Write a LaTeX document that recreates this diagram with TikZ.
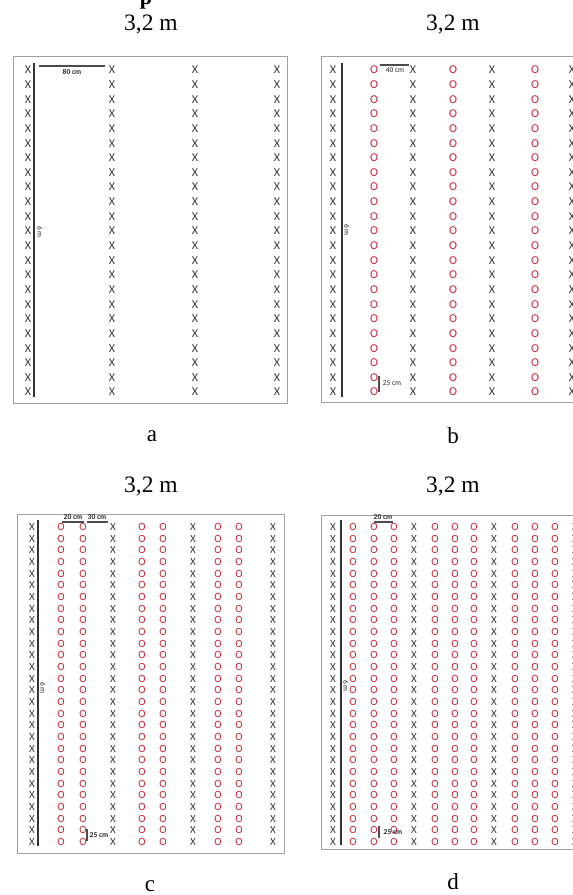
\documentclass[tikz,border=0pt]{standalone}
\usepackage{fontspec}
\setmainfont{Liberation Serif}
\newfontfamily\markfont{Carlito}
\definecolor{ored}{RGB}{200,35,50}
\definecolor{xgray}{RGB}{60,60,60}
\definecolor{framegray}{RGB}{160,160,160}
\begin{document}
\begin{tikzpicture}[x=1pt,y=-1pt,
  title/.style={font=\fontsize{23.5}{23.5}\selectfont, inner sep=0},
  panellabel/.style={font=\fontsize{23}{23}\selectfont, inner sep=0},
  xmark/.style={font=\markfont\fontsize{12}{12}\selectfont, text=xgray, inner sep=0},
  omark/.style={font=\markfont\fontsize{12}{12}\selectfont, text=ored, inner sep=0},
  xmarks/.style={font=\markfont\fontsize{11}{11}\selectfont, text=xgray, inner sep=0},
  omarks/.style={font=\markfont\fontsize{11}{11}\selectfont, text=ored, inner sep=0},
  frame/.style={draw=framegray, line width=0.9pt},
  rowline/.style={draw=black!80, line width=1.5pt},
  dimline/.style={draw=black!70, line width=1.2pt},
  smalllab/.style={font=\markfont\fontsize{7.5}{7.5}\selectfont, inner sep=0, text=black!85},
  smallbold/.style={font=\markfont\bfseries\fontsize{7.5}{7.5}\selectfont, inner sep=0, text=black!85},
  fragment/.style={font=\bfseries\fontsize{22}{22}\selectfont, inner sep=0, anchor=base}]
\useasboundingbox (0,0) rectangle (573,895);
\node[fragment] (frag) at (146,4) {p};
% ---------- panel a ----------
\node[title] (ta) at (151,25) {3,2 m};
\draw[frame] (13,56) rectangle (287,403);
\foreach \c [count=\ci] in {28,112,195,277}
  \foreach \r in {0,...,22}
    \node[xmark] (a-\ci-\r) at (\c,{70+14.64*\r}) {X};
\coordinate (av1) at (34,63); \coordinate (av2) at (34,397);
\draw[rowline] (av1) -- (av2);
\node[smalllab, rotate=-90] (a6m) at (40,232) {6 m};
\coordinate (ah1) at (39,66); \coordinate (ah2) at (105,66);
\draw[dimline] (ah1) -- (ah2);
\node[smallbold] (a80) at (72,71.5) {80 cm};
\node[panellabel] (la) at (152,436) {a};
% ---------- panel b ----------
\node[title] (tb) at (453,25) {3,2 m};
\draw[frame] (321,56) rectangle (585,402);
\foreach \c [count=\ci] in {333,413,492,572}
  \foreach \r in {0,...,22}
    \node[xmark] (b-x\ci-\r) at (\c,{70+14.64*\r}) {X};
\foreach \c [count=\ci] in {374,453,535}
  \foreach \r in {0,...,22}
    \node[omark] (b-o\ci-\r) at (\c,{70+14.64*\r}) {O};
\coordinate (bv1) at (342,63); \coordinate (bv2) at (342,397);
\draw[rowline] (bv1) -- (bv2);
\node[smalllab, rotate=-90] (b6m) at (347,230) {6 m};
\coordinate (bh1) at (380,65); \coordinate (bh2) at (409,65);
\draw[dimline] (bh1) -- (bh2);
\node[smalllab] (b40) at (395,70.5) {40 cm};
\coordinate (bw1) at (379,376); \coordinate (bw2) at (379,392);
\draw[dimline] (bw1) -- (bw2);
\node[smalllab] (b25) at (392,383) {25 cm};
\node[panellabel] (lb) at (453,436) {b};
% ---------- panel c ----------
\node[title] (tc) at (151,487) {3,2 m};
\draw[frame] (17,514) rectangle (284,853);
\foreach \c [count=\ci] in {32,113,193,273}
  \foreach \r in {0,...,27}
    \node[xmarks] (c-x\ci-\r) at (\c,{527+11.67*\r}) {X};
\foreach \c [count=\ci] in {61,83,142,163,218,239}
  \foreach \r in {0,...,27}
    \node[omarks] (c-o\ci-\r) at (\c,{527+11.67*\r}) {O};
\coordinate (cv1) at (38,520); \coordinate (cv2) at (38,846);
\draw[rowline] (cv1) -- (cv2);
\node[smalllab, rotate=-90] (c6m) at (43,688) {6 m};
\coordinate (ch1) at (62,522); \coordinate (ch2) at (84,522);
\draw[dimline] (ch1) -- (ch2);
\node[smallbold] (c20) at (73,517) {20 cm};
\coordinate (ch3) at (87,522); \coordinate (ch4) at (108,522);
\draw[dimline] (ch3) -- (ch4);
\node[smallbold] (c30) at (97,517) {30 cm};
\coordinate (cw1) at (87,829); \coordinate (cw2) at (87,841);
\draw[dimline] (cw1) -- (cw2);
\node[smallbold] (c25) at (99,835) {25 cm};
\node[panellabel] (lc) at (150,886) {c};
% ---------- panel d ----------
\node[title] (td) at (453,487) {3,2 m};
\draw[frame] (321,515) rectangle (585,849);
\foreach \c [count=\ci] in {333,414,494,575}
  \foreach \r in {0,...,27}
    \node[xmarks] (d-x\ci-\r) at (\c,{527+11.67*\r}) {X};
\foreach \c [count=\ci] in {353,374,394,435,455,474,515,535,555}
  \foreach \r in {0,...,27}
    \node[omarks] (d-o\ci-\r) at (\c,{527+11.67*\r}) {O};
\coordinate (dv1) at (341,520); \coordinate (dv2) at (341,845);
\draw[rowline] (dv1) -- (dv2);
\node[smalllab, rotate=-90] (d6m) at (346,686) {6 m};
\coordinate (dh1) at (374,522); \coordinate (dh2) at (393,522);
\draw[dimline] (dh1) -- (dh2);
\node[smallbold] (d20) at (383,517) {20 cm};
\coordinate (dw1) at (379,826); \coordinate (dw2) at (379,838);
\draw[dimline] (dw1) -- (dw2);
\node[smallbold] (d25) at (393,832) {25 cm};
\node[panellabel] (ld) at (453,882) {d};
\end{tikzpicture}
\end{document}
